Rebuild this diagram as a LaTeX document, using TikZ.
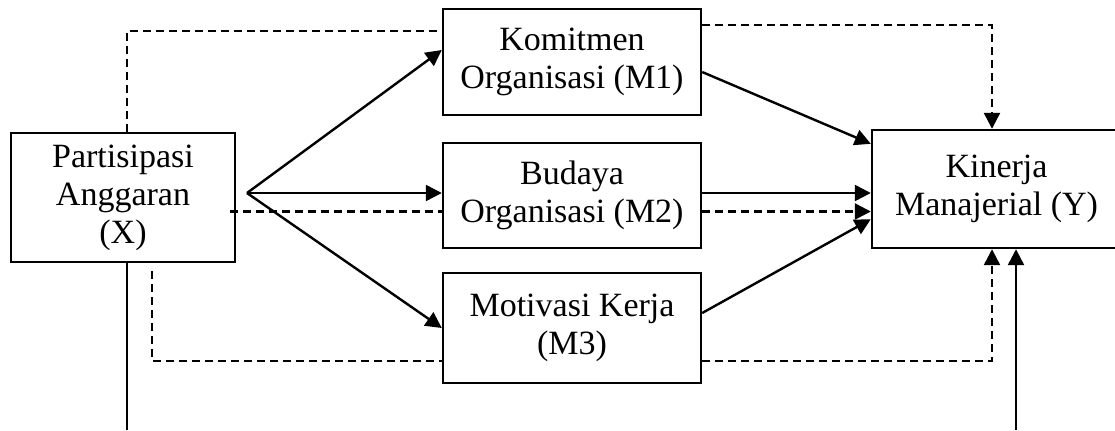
\documentclass[tikz,border=0pt]{standalone}
\usepackage{fontspec}
\setmainfont{Liberation Serif}
\usepackage{tikz}
\usetikzlibrary{arrows.meta,positioning}

\begin{document}
\begin{tikzpicture}[x=0.5pt,y=-0.5pt,>={Triangle[length=8pt,width=8pt]},line width=1.2pt,
 box/.style={draw,line width=1.2pt,align=center,fill=white,font=\fontsize{17}{19}\selectfont,minimum width=129pt},
 dashline/.style={dashed,dash pattern=on 4pt off 2.5pt}]
\useasboundingbox (0,0) rectangle (1115,430);
\node[box,minimum width=112pt,minimum height=64.5pt] (X) at (123,197.5) {Partisipasi\\Anggaran\\(X)};
\node[box,minimum height=53pt] (M1) at (572,62) {Komitmen\\Organisasi (M1)};
\node[box,minimum height=52.5pt] (M2) at (572,195.5) {Budaya\\Organisasi (M2)};
\node[box,minimum height=55pt] (M3) at (572,328) {Motivasi Kerja\\(M3)};
\node[box,minimum width=124.5pt,minimum height=59pt] (Y) at (996.5,189) {Kinerja\\Manajerial (Y)};
\coordinate (fork) at (247,193);
\coordinate (xd) at ([xshift=-3pt,yshift=-7pt]X.east);
\coordinate (tl) at (127,31); \coordinate (tr) at (992,25);
\coordinate (bl) at (152,361); \coordinate (br) at (992,361);
\coordinate (xb) at (127,430); \coordinate (yb) at (1016,430);
\draw[->] (fork) -- ([yshift=6pt]M1.west);
\draw[->] (fork) -- (fork -| M2.west);
\draw[->] (fork) -- (M3.west);
\draw[->] ([yshift=-5pt]M1.east) -- ([yshift=-7.5pt]Y.north west);
\draw[->] (fork -| M2.east) -- (fork -| Y.west);
\draw[->] ([yshift=7.5pt]M3.east) -- ([yshift=15pt]Y.south west);
\draw[dashline] (xd) -- (xd -| M2.west);
\draw[dashline,->] (xd -| M2.east) -- (xd -| Y.west);
\draw[dashline] (tl |- X.north) -- (tl) -- (tl -| M1.west);
\draw[dashline,->] (tr -| M1.east) -- (tr) -- (tr |- Y.north);
\draw[dashline] ([yshift=-4pt]bl |- X.south) -- (bl) -- (bl -| M3.west);
\draw[dashline,->] (br -| M3.east) -- (br) -- (br |- Y.south);
\draw (xb |- X.south) -- (xb);
\draw[->] (yb) -- (yb |- Y.south);
\end{tikzpicture}
\end{document}
